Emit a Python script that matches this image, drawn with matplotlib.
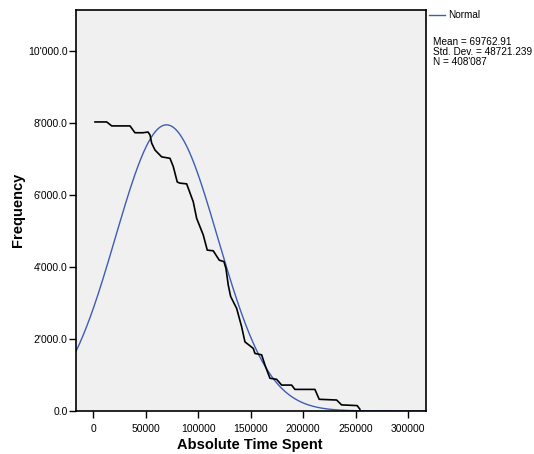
import numpy as np
import matplotlib
matplotlib.use("Agg")
import matplotlib.pyplot as plt

plt.rcParams['font.family'] = ['Liberation Sans', 'DejaVu Sans']

# fitted normal parameters (from the chart's annotation)
mean = 69762.91
std_dev = 48721.239
n_label = "408'087"
normal_peak = 7950

time_spent = [1600, 12760, 17520, 34950, 39710, 47330, 52100, 54000, 55620, 58760,
              65140, 73050, 76190, 80000, 82570, 88950, 95240, 98480, 104760, 108570,
              114290, 120000, 124480, 126380, 128570, 130860, 136570, 141330, 144480, 152380,
              154000, 160380, 163520, 168290, 174670, 179430, 188950, 192100, 211140, 215240,
              231810, 236570, 251430, 254000]
frequency = [8030, 8030, 7920, 7920, 7730, 7730, 7750, 7670, 7440, 7250,
             7060, 7020, 6790, 6360, 6330, 6310, 5810, 5350, 4890, 4470,
             4450, 4190, 4150, 3960, 3500, 3180, 2850, 2340, 1920, 1740,
             1600, 1560, 1280, 910, 880, 720, 720, 600, 600, 325,
             305, 170, 150, 50]

x_ticks = [0, 50000, 100000, 150000, 200000, 250000, 300000]
y_ticks = [0, 2000, 4000, 6000, 8000, 10000]
y_tick_labels = ["0.0", "2'000.0", "4'000.0", "6'000.0", "8'000.0", "10'000.0"]

W, H = 534, 454
fig = plt.figure(figsize=(W / 100, H / 100), dpi=100)
ax = fig.add_axes([76 / W, 1 - 411 / H, 350 / W, 401 / H])
ax.set_facecolor('#F0F0F0')

xs = np.linspace(-16500, 317000, 600)
normal = normal_peak * np.exp(-0.5 * ((xs - mean) / std_dev) ** 2)
ax.plot(xs, normal, color='#3E5CB8', lw=1.0)
ax.plot(time_spent, frequency, color='black', lw=1.2)

ax.set_xlim(-16500, 317000)
ax.set_ylim(0, 11140)
ax.set_xticks(x_ticks)
ax.set_xticklabels([str(t) for t in x_ticks])
ax.set_yticks(y_ticks)
ax.set_yticklabels(y_tick_labels)
ax.tick_params(direction='out', length=5, width=1, labelsize=7.5, colors='black')
ax.tick_params(axis='x', pad=4)
ax.tick_params(axis='y', pad=1)
for s in ax.spines.values():
    s.set_linewidth(1.2)

# axis titles placed where the reference has them
fig.text(250 / W, 1 - 445 / H, 'Absolute Time Spent', fontsize=10.5,
         fontweight='bold', ha='center', va='center')
fig.text(18 / W, 1 - 210 / H, 'Frequency', fontsize=10.5, fontweight='bold',
         ha='center', va='center', rotation=90)

# legend and stats outside the plot
fig.add_artist(plt.Line2D([429 / W, 445 / W], [1 - 15 / H, 1 - 15 / H],
                          color='#3E5CB8', lw=1.0))
fig.text(448 / W, 1 - 15.5 / H, 'Normal', fontsize=7.2, va='center')
stats = [f'Mean = {mean:.2f}', f'Std. Dev. = {std_dev:.3f}', f'N = {n_label}']
for i, line in enumerate(stats):
    fig.text(433 / W, 1 - (42 + 9.8 * i) / H, line, fontsize=7.2, va='center')

fig.savefig('out.png', dpi=100)
